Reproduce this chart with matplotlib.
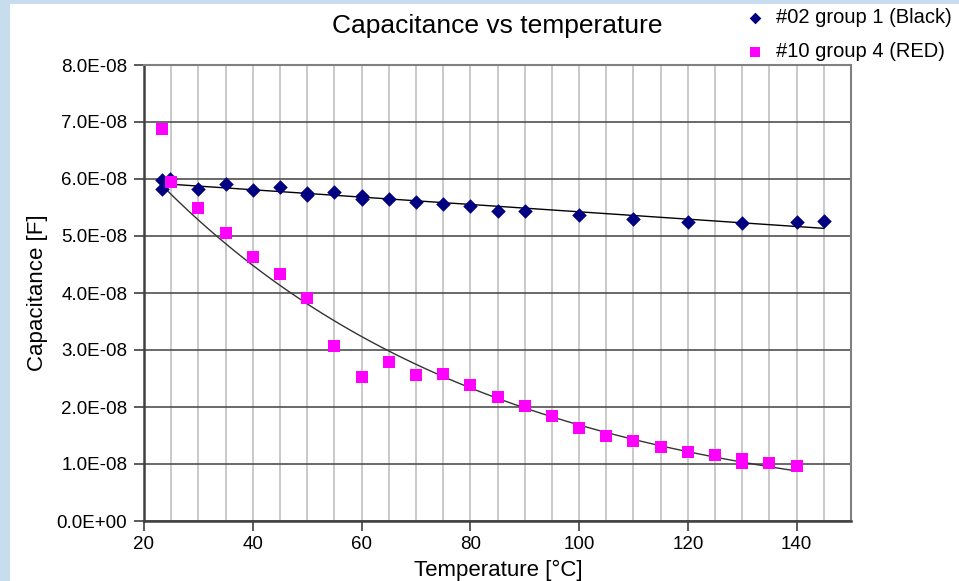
import numpy as np
import matplotlib
matplotlib.use("Agg")
import matplotlib.pyplot as plt
from matplotlib.patches import Rectangle
from matplotlib.ticker import MultipleLocator, FuncFormatter

plt.rcParams['font.family'] = ['Liberation Sans', 'DejaVu Sans']

# data
black_temp = [23.3, 23.3, 24.7, 30, 35, 40, 45, 50, 50, 55, 60, 60, 65, 70, 75, 80, 85, 90, 100, 110, 120, 130, 140, 145]
black_cap = [5.99, 5.82, 6.00, 5.82, 5.92, 5.81, 5.86, 5.72, 5.75, 5.77, 5.65, 5.70, 5.65, 5.60, 5.56, 5.53,
             5.44, 5.43, 5.36, 5.29, 5.25, 5.23, 5.25, 5.26]

red_temp = [23.4, 25, 30, 35, 40, 45, 50, 55, 60, 65, 70, 75, 80, 85, 90, 95, 100, 105, 110, 115, 120, 125,
            130, 130, 135, 140]
red_cap = [6.88, 5.95, 5.49, 5.05, 4.63, 4.33, 3.91, 3.07, 2.52, 2.79, 2.56, 2.58, 2.38, 2.18, 2.01, 1.84,
           1.63, 1.49, 1.40, 1.29, 1.21, 1.15, 1.02, 1.08, 1.01, 0.96]

labels = ["#02 group 1 (Black)", "#10 group 4 (RED)"]

W, H = 959, 581
fig = plt.figure(figsize=(W / 100, H / 100), dpi=100, facecolor="#c8dcf0")
bg = Rectangle((10 / W, 0), 1 - 10 / W, 1 - 4 / H, transform=fig.transFigure,
               facecolor="white", edgecolor="none", zorder=-10)
fig.add_artist(bg)

ax = fig.add_axes([144 / W, 1 - 521 / H, (851 - 144) / W, (521 - 65) / H], zorder=2)

bt = np.array(black_temp)
bc = np.array(black_cap) * 1e-8
rt = np.array(red_temp)
rc = np.array(red_cap) * 1e-8

# trendlines (linear for black, exponential for red)
p = np.polyfit(bt, bc, 1)
xb = np.linspace(bt.min(), bt.max(), 100)
ax.plot(xb, np.polyval(p, xb), color="black", lw=1.0, zorder=3)

q = np.polyfit(rt, np.log(rc), 1)
xr = np.linspace(rt.min(), rt.max(), 100)
ax.plot(xr, np.exp(np.polyval(q, xr)), color="#333333", lw=1.0, zorder=3)

ax.scatter(bt, bc, marker="D", s=55, color="#000080", zorder=4, label=labels[0], linewidths=0)
ax.scatter(rt, rc, marker="s", s=80, color="#ff00ff", zorder=4, label=labels[1], linewidths=0)

ax.set_xlim(20, 150)
ax.set_ylim(0, 8e-8)
ax.xaxis.set_major_locator(MultipleLocator(20))
ax.xaxis.set_minor_locator(MultipleLocator(5))
ax.yaxis.set_major_locator(MultipleLocator(1e-8))
ax.yaxis.set_major_formatter(FuncFormatter(lambda v, pos: f"{v:.1E}"))

ax.grid(True, which="minor", axis="x", color="#c0c0c0", lw=1.2)
ax.grid(True, which="major", axis="x", color="#c0c0c0", lw=1.2)
ax.grid(True, which="major", axis="y", color="#505050", lw=1.2)
ax.set_axisbelow(True)
ax.tick_params(which="minor", length=0)
ax.tick_params(which="major", direction="out", length=7, width=1.2, color="#404040", labelsize=13.5)
ax.tick_params(axis="y", pad=5)

for s in ["left", "bottom"]:
    ax.spines[s].set_color("#404040")
    ax.spines[s].set_linewidth(1.8)
for s in ["top", "right"]:
    ax.spines[s].set_color("#808080")
    ax.spines[s].set_linewidth(1.5)

ax.set_ylabel("Capacitance [F]", fontsize=16, labelpad=6)
fig.text(498 / W, 1 - 570 / H, "Temperature [°C]", fontsize=16, ha="center", va="center")
fig.text(497 / W, 1 - 26 / H, "Capacitance vs temperature", fontsize=19, ha="center", va="center")

fig.legend(loc="upper right", bbox_to_anchor=(952 / W, 1 - 8 / H), frameon=False, fontsize=14.5,
           borderpad=0, borderaxespad=0, handlelength=1.0, handletextpad=0.55,
           labelspacing=0.75, scatterpoints=1, markerscale=0.8)

fig.savefig("out.png", dpi=100, facecolor=fig.get_facecolor())
